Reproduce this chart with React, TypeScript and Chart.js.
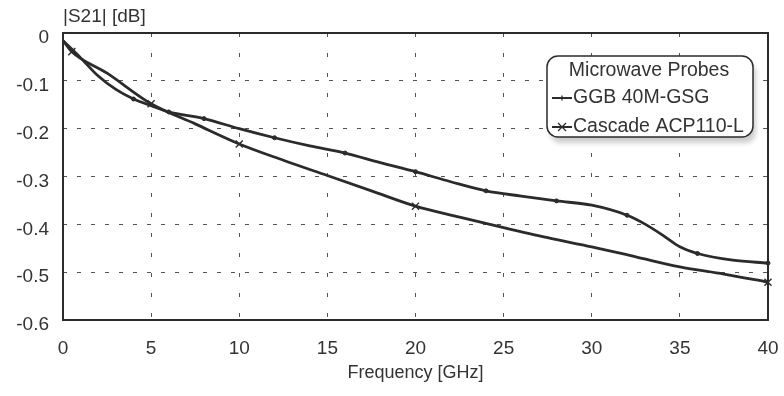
import React, { useEffect, useRef } from 'react';
import { Chart, registerables } from 'chart.js';

Chart.register(...registerables);

// GGB 40M-GSG probe: frequency [GHz] and |S21| [dB]
const ggbFreq = [0, 1, 2, 3, 4, 5, 6, 8, 10, 12, 14, 16, 18, 20, 22, 24, 26, 28, 30, 32, 33, 34, 35, 36, 38, 40];
const ggbS21 = [-0.016, -0.052, -0.09, -0.118, -0.138, -0.152, -0.165, -0.179, -0.2, -0.219, -0.236, -0.251, -0.271, -0.29, -0.311, -0.33, -0.341, -0.351, -0.36, -0.381, -0.399, -0.422, -0.447, -0.461, -0.475, -0.481];
const ggbMarkerAt = [4, 6, 8, 12, 16, 20, 24, 28, 32, 36, 40];

// Cascade ACP110-L probe
const cascadeFreq = [0, 0.5, 2.5, 5, 7.5, 10, 12.5, 15, 17.5, 20, 22.5, 25, 27.5, 30, 32.5, 35, 37.5, 40];
const cascadeS21 = [-0.016, -0.039, -0.084, -0.148, -0.19, -0.232, -0.266, -0.298, -0.33, -0.362, -0.385, -0.407, -0.428, -0.447, -0.468, -0.489, -0.504, -0.521];
const cascadeMarkerAt = [0.5, 5, 10, 20, 40];

const seriesNames = ['GGB 40M-GSG', 'Cascade ACP110-L'];
const legendTitle = 'Microwave Probes';
const xTitle = 'Frequency [GHz]';
const yTitle = '|S21| [dB]';
const xTicks = [0, 5, 10, 15, 20, 25, 30, 35, 40];
const yTicks = [0, -0.1, -0.2, -0.3, -0.4, -0.5, -0.6];

const FONT = "'Liberation Sans', Arial, Helvetica, sans-serif";
const INK = '#2b2b2b';

const decorPlugin = {
  id: 'decor',
  beforeDatasetsDraw(chart: any) {
    const { ctx, chartArea: a } = chart;
    ctx.save();
    ctx.strokeStyle = INK;
    ctx.lineWidth = 2;
    ctx.strokeRect(a.left, a.top, a.right - a.left, a.bottom - a.top);
    ctx.restore();
  },
  afterDraw(chart: any) {
    const { ctx, chartArea: a } = chart;
    ctx.save();
    // y axis title
    ctx.fillStyle = '#333';
    ctx.font = `19px ${FONT}`;
    ctx.textAlign = 'left';
    ctx.textBaseline = 'middle';
    ctx.fillText(yTitle, a.left, a.top - 16);

    // legend box
    const bw = 206, bh = 81;
    const bx = a.right - 221, by = a.top + 23;
    ctx.beginPath();
    (ctx as any).roundRect(bx, by, bw, bh, 11);
    ctx.shadowColor = 'rgba(0,0,0,0.2)';
    ctx.shadowBlur = 5;
    ctx.shadowOffsetX = 3;
    ctx.shadowOffsetY = 6;
    ctx.fillStyle = '#fff';
    ctx.fill();
    ctx.shadowColor = 'transparent';
    ctx.lineWidth = 1.5;
    ctx.strokeStyle = INK;
    ctx.stroke();

    ctx.fillStyle = '#333';
    ctx.font = `19.5px ${FONT}`;
    ctx.textAlign = 'center';
    ctx.fillText(legendTitle, bx + 102, by + 15);

    const rows = [by + 42, by + 71];
    chart.data.datasets.forEach((ds: any, i: number) => {
      const y = rows[i];
      ctx.strokeStyle = INK;
      ctx.lineWidth = 2;
      ctx.beginPath();
      ctx.moveTo(bx + 5, y);
      ctx.lineTo(bx + 25, y);
      ctx.stroke();
      const mx = bx + 15;
      ctx.lineWidth = 1.3;
      ctx.beginPath();
      if (i === 0) {
        ctx.moveTo(mx, y - 2.5);
        ctx.lineTo(mx, y + 2.5);
      } else {
        ctx.moveTo(mx - 4, y - 4);
        ctx.lineTo(mx + 4, y + 4);
        ctx.moveTo(mx + 4, y - 4);
        ctx.lineTo(mx - 4, y + 4);
      }
      ctx.stroke();
      ctx.fillStyle = '#333';
      ctx.textAlign = 'left';
      ctx.fillText(ds.label, bx + 26, y);
    });
    ctx.restore();
  },
};

export default function App() {
  const ref = useRef<HTMLCanvasElement | null>(null);

  useEffect(() => {
    document.body.style.margin = '0';
    if (!ref.current) return;
    const ggbData = ggbFreq.map((f, i) => ({ x: f, y: ggbS21[i] }));
    const cascadeData = cascadeFreq.map((f, i) => ({ x: f, y: cascadeS21[i] }));

    const chart = new Chart(ref.current, {
      type: 'line',
      data: {
        datasets: [
          {
            label: seriesNames[0],
            data: ggbData,
            borderColor: INK,
            backgroundColor: INK,
            borderWidth: 2.8,
            cubicInterpolationMode: 'monotone',
            pointStyle: 'circle',
            pointRadius: (c: any) => (ggbMarkerAt.includes(ggbFreq[c.dataIndex]) ? 2 : 0),
            pointBorderWidth: 1,
            pointBorderColor: INK,
            pointBackgroundColor: INK,
            clip: false,
          } as any,
          {
            label: seriesNames[1],
            data: cascadeData,
            borderColor: INK,
            backgroundColor: INK,
            borderWidth: 2.8,
            cubicInterpolationMode: 'monotone',
            pointStyle: 'crossRot',
            pointRadius: (c: any) => (cascadeMarkerAt.includes(cascadeFreq[c.dataIndex]) ? 5 : 0),
            pointBorderWidth: 1.4,
            pointBorderColor: INK,
            clip: false,
          } as any,
        ],
      },
      options: {
        animation: false,
        responsive: true,
        maintainAspectRatio: false,
        layout: { padding: { top: 33, right: 16, left: 0, bottom: 0 } },
        plugins: {
          legend: { display: false },
          tooltip: { enabled: false },
        },
        scales: {
          x: {
            type: 'linear',
            min: 0,
            max: 40,
            afterBuildTicks: (s: any) => {
              s.ticks = xTicks.map((v) => ({ value: v }));
            },
            afterFit: (s: any) => {
              s.height = 76;
              s.paddingLeft = 0;
              s.paddingRight = 0;
            },
            ticks: {
              color: '#333',
              font: { family: FONT, size: 19 },
              padding: 17,
              maxRotation: 0,
              callback: (v: any) => String(v),
            },
            grid: { color: '#555', lineWidth: 1, drawTicks: false },
            border: { display: false, dash: [4, 16] },
            title: {
              display: true,
              text: xTitle,
              color: '#333',
              font: { family: FONT, size: 18 },
              padding: { top: 0, bottom: 12 },
            },
          },
          y: {
            type: 'linear',
            min: -0.6,
            max: 0,
            afterBuildTicks: (s: any) => {
              s.ticks = yTicks.map((v) => ({ value: v }));
            },
            afterFit: (s: any) => {
              s.width = 63;
              s.paddingTop = 0;
              s.paddingBottom = 0;
            },
            ticks: {
              color: '#333',
              font: { family: FONT, size: 19 },
              padding: 14,
              labelOffset: 5,
              callback: (v: any) => (Math.abs(v) < 1e-9 ? '0' : Number(v).toFixed(1)),
            },
            grid: { color: '#555', lineWidth: 1, drawTicks: false },
            border: { display: false, dash: [4, 10] },
          },
        },
      },
      plugins: [decorPlugin],
    });
    return () => chart.destroy();
  }, []);

  return (
    <div style={{ width: 784, height: 396, position: 'relative', background: '#fff' }}>
      <canvas ref={ref} />
    </div>
  );
}
